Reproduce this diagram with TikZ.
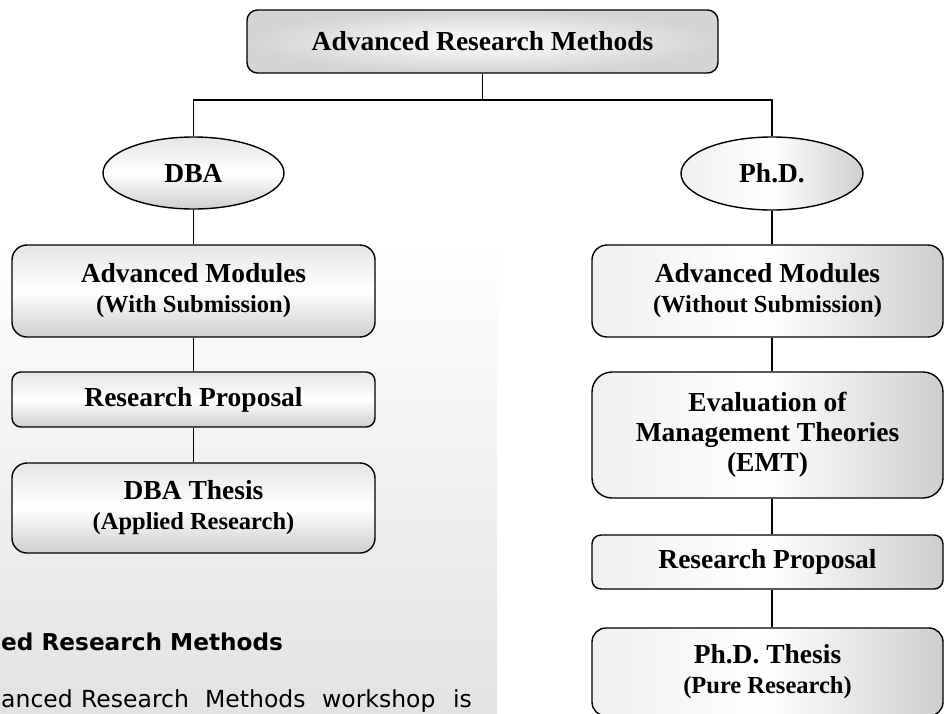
\documentclass[tikz,border=0pt]{standalone}
\usepackage{fontspec}
\setmainfont{Liberation Serif}
\newfontfamily\panelfont{DejaVu Sans}
\usetikzlibrary{shapes.geometric}
\newcommand\mainsz{\fontsize{27.5}{30}\selectfont}
\newcommand\subl[1]{{\fontsize{24.5}{30}\selectfont #1}}
\tikzset{
  bx/.style={draw, line width=1.4pt, rectangle, align=center, inner sep=0pt,
             font=\bfseries\mainsz},
  lbox/.style={bx, top color=black!10, bottom color=black!19, middle color=white},
  rbox/.style={bx, left color=black!6, right color=black!19, middle color=white},
  conn/.style={draw, line width=1.3pt},
  paneltext/.style={inner sep=0pt, font=\panelfont\fontsize{23.5}{28}\selectfont}
}
\begin{document}
\begin{tikzpicture}[x=1pt,y=1pt]
\useasboundingbox (0,0) rectangle (945,-713);
\fill[white] (0,0) rectangle (945,-713);
\begin{scope}
\clip (0,0) rectangle (945,-713);
% background panel
\fill[top color=white, bottom color=black!11] (0,-240) rectangle (497,-713);
\node[paneltext, font=\panelfont\bfseries\fontsize{23.2}{28}\selectfont, anchor=base west] (ph) at (1,-650) {ed Research Methods};
\node[paneltext, anchor=base west] (w1) at (1,-707) {anced};
\node[paneltext, anchor=base west] (w2) at (81,-707) {Research};
\node[paneltext, anchor=base west] (w3) at (205,-707) {Methods};
\node[paneltext, anchor=base west] (w4) at (322,-707) {workshop};
\node[paneltext, anchor=base east] (w5) at (472,-707) {is};

% top
\node[bx, shading=radial, inner color=white, outer color=black!17, rounded corners=10.5pt,
      minimum width=471pt, minimum height=63pt] (top) at (482.5,-41.5) {Advanced Research Methods};
% ellipses
\node[bx, ellipse, top color=black!10, bottom color=black!19, middle color=white,
      minimum width=181pt, minimum height=72pt] (dba) at (193.5,-173) {DBA};
\node[bx, ellipse, left color=black!6, right color=black!19, middle color=white,
      minimum width=182pt, minimum height=73pt] (phd) at (772,-173.5) {Ph.D.};
% left column
\node[lbox, rounded corners=15pt, minimum width=363pt, minimum height=92pt] (l1) at (193.5,-291)
  {Advanced Modules\\ \subl{(With Submission)}};
\node[lbox, rounded corners=9pt, minimum width=363pt, minimum height=55pt] (l2) at (193.5,-399.5)
  {Research Proposal};
\node[lbox, rounded corners=15pt, minimum width=363pt, minimum height=90pt] (l3) at (193.5,-508)
  {DBA Thesis\\ \subl{(Applied Research)}};
% right column
\node[rbox, rounded corners=15pt, minimum width=351pt, minimum height=92pt] (r1) at (767.5,-291)
  {Advanced Modules\\ \subl{(Without Submission)}};
\node[rbox, rounded corners=20pt, minimum width=351pt, minimum height=126pt] (r2) at (767.5,-435)
  {Evaluation of\\ Management Theories\\ (EMT)};
\node[rbox, rounded corners=9pt, minimum width=351pt, minimum height=54pt] (r3) at (767.5,-562)
  {Research Proposal};
\node[rbox, rounded corners=14pt, minimum width=351pt, minimum height=88pt] (r4) at (767.5,-672)
  {Ph.D. Thesis\\ \subl{(Pure Research)}};

% connectors
\coordinate (junc) at (482.5,-100);
\draw[conn] (top.south) -- (junc);
\draw[conn] (dba.north) |- (junc) -| (phd.north);
\draw[conn] (dba.south) -- (l1.north);
\draw[conn] (l1.south) -- (l2.north);
\draw[conn] (l2.south) -- (l3.north);
\draw[conn] (phd.south) -- (phd.south |- r1.north);
\draw[conn] (phd.south |- r1.south) -- (phd.south |- r2.north);
\draw[conn] (phd.south |- r2.south) -- (phd.south |- r3.north);
\draw[conn] (phd.south |- r3.south) -- (phd.south |- r4.north);
\end{scope}
\end{tikzpicture}
\end{document}
